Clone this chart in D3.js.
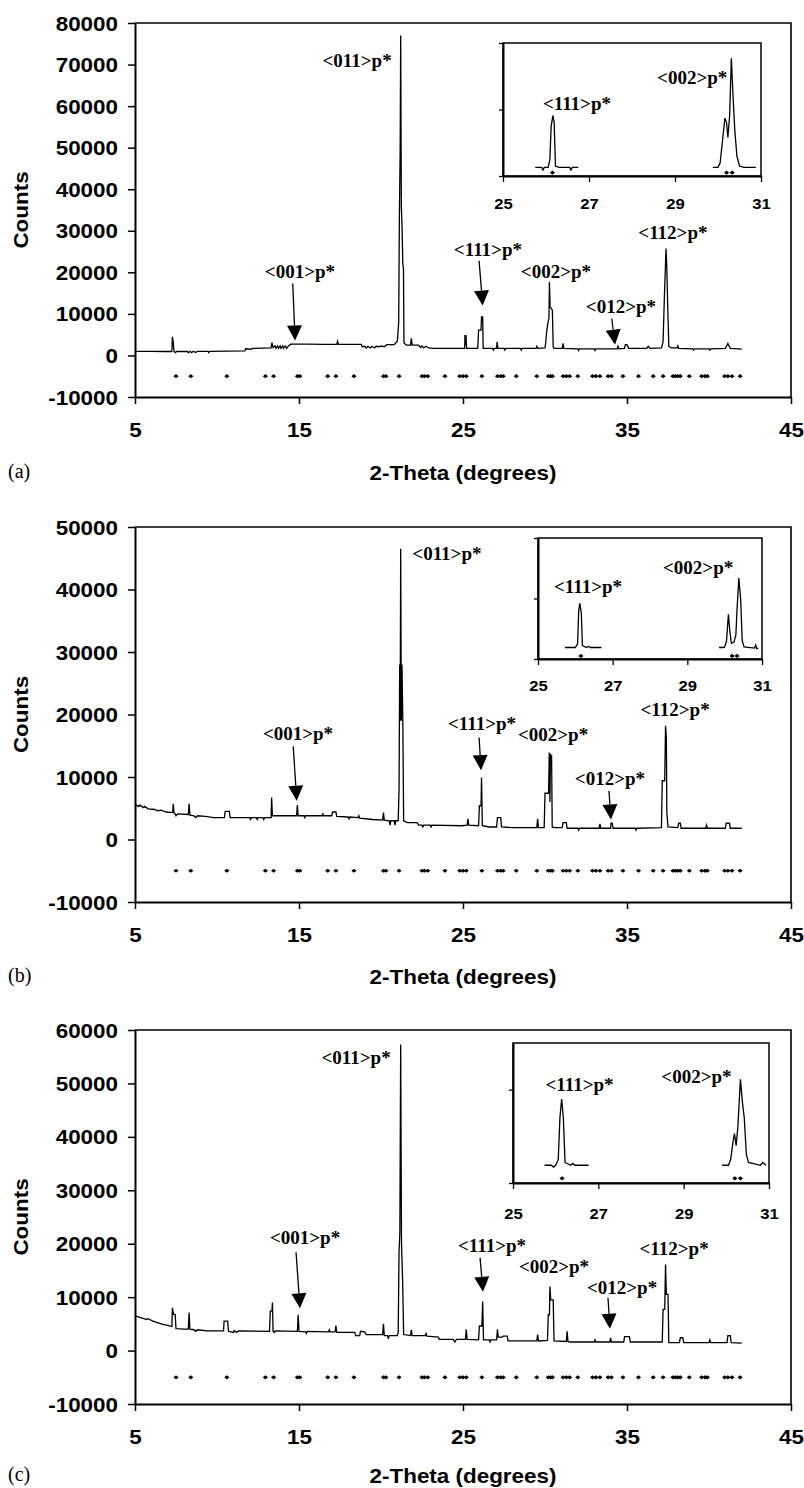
<!DOCTYPE html>
<html>
<head>
<meta charset="utf-8">
<script src="https://cdn.jsdelivr.net/npm/d3@7"></script>
<style>
  body { margin: 0; background: #fff; }
  svg { display: block; }
  .tick text { font-family: "Liberation Sans", Arial, sans-serif; font-weight: bold; fill: #000; }
  .ann { font-family: "Liberation Serif", "Times New Roman", serif; font-weight: bold; font-size: 19px; fill: #000; }
</style>
</head>
<body>
<div id="chart"></div>
<script>
// ---- data ----
var xTicks = [5, 15, 25, 35, 45];
var insetTicks = [25, 27, 29, 31];
var refLevel = -5000;     // counts level of the reference-peak markers
var insetRefLevel = 500;
var yMaxA = 80000, yMaxB = 50000, yMaxC = 60000;

// reference peak positions (2-theta)
var refPeaks = [7.5, 8.4, 10.6, 12.95, 13.45, 14.9, 15.05, 16.75, 17.25, 18.35, 20.15, 20.3, 21.1,
  22.5, 22.65, 22.85, 23.9, 24.8, 25.0, 25.2, 26.15, 27.1, 27.3, 27.45, 28.25, 29.5, 30.2, 30.35,
  30.45, 31.1, 31.3, 31.5, 32.0, 32.9, 33.1, 33.35, 33.85, 34.05, 34.75, 35.7, 36.6, 37.2, 37.8,
  37.95, 38.1, 38.25, 38.8, 39.55, 39.75, 39.9, 40.95, 41.15, 41.4, 41.9];
var insetRef = [26.15, 30.2, 30.33];

// diffraction profiles [2-theta, counts]
var profileA = [[5.0,1000],[6.0,1000],[6.8,950],[7.25,950],[7.28,4500],[7.33,3200],[7.38,1000],[7.45,700],[7.55,950],
  [8.2,950],[8.25,650],[8.35,1000],[8.45,650],[8.55,1000],[8.7,700],[8.8,1000],[9.45,1000],[9.5,650],[9.55,1000],
  [10.6,1050],[11.7,1100],[11.75,1600],[12.1,1500],[12.15,1700],[13.3,1800],[13.35,3100],[13.42,1900],[13.55,2300],
  [13.6,1700],[13.7,2300],[13.75,1700],[13.85,2300],[13.9,1700],[14.0,2300],[14.05,1700],[14.15,2300],[14.25,1700],
  [14.35,2300],[14.5,2700],[15.5,2700],[16.5,2650],[17.3,2650],[17.35,3400],[17.4,2650],[18.8,2650],[18.85,2100],
  [19.0,2200],[19.1,1800],[19.2,2200],[19.35,1800],[19.45,2200],[19.6,1800],[19.7,2200],[19.9,2100],[20.0,2300],
  [20.2,2100],[20.35,2600],[20.8,2600],[20.9,3000],[21.0,3500],[21.08,8000],[21.12,33000],[21.17,50000],[21.2,77000],
  [21.24,36000],[21.29,30000],[21.33,22000],[21.37,20900],[21.4,3000],[21.55,2500],[21.8,2500],[21.85,4100],[21.9,2500],
  [22.3,2500],[22.4,1900],[22.5,2300],[22.6,1800],[22.75,2200],[22.9,1800],[23.2,1700],[24.5,1700],[25.1,1700],
  [25.12,4900],[25.15,2500],[25.18,4900],[25.22,1700],[25.9,1700],[25.95,6100],[26.1,6100],[26.13,9300],[26.2,9300],
  [26.23,1700],[26.8,1700],[26.85,1300],[26.9,1700],[27.05,1700],[27.08,3300],[27.13,1700],[27.5,1700],[27.55,1300],
  [27.6,1700],[28.5,1700],[28.55,1300],[28.6,1700],[29.45,1700],[29.5,2200],[29.55,1700],[30.0,1800],[30.04,3000],
  [30.1,5700],[30.17,7700],[30.24,9000],[30.27,17700],[30.31,11700],[30.45,10900],[30.5,2000],[30.55,1700],[31.05,1700],
  [31.1,2900],[31.15,1700],[32.0,1600],[32.05,1200],[32.1,1600],[33.0,1600],[33.05,1200],[33.1,1600],[34.4,1600],
  [34.45,2200],[34.5,1600],[34.85,1700],[34.9,2600],[35.0,2600],[35.1,1700],[36.2,1700],[36.3,2200],[36.4,1700],
  [37.1,1800],[37.2,3300],[37.28,14100],[37.38,25700],[37.43,20900],[37.48,12100],[37.55,2200],[37.7,1800],[38.05,1800],
  [38.1,2300],[38.15,1700],[39.0,1600],[39.05,1300],[39.1,1600],[40.0,1600],[40.05,1300],[40.1,1600],[41.0,1700],
  [41.15,2900],[41.3,1700],[42.0,1500]];

var profileB = [[5.0,5600],[5.2,5300],[5.3,5500],[5.5,5100],[5.6,5300],[5.8,4900],[6.2,4800],[6.4,4600],[6.6,4700],
  [6.9,4400],[7.3,4300],[7.33,5700],[7.38,4300],[7.45,4100],[7.5,3800],[7.6,4100],[8.25,4000],[8.3,5700],[8.35,3900],
  [8.6,3800],[8.7,3500],[8.8,3800],[9.3,3700],[9.8,3500],[10.45,3500],[10.5,4500],[10.75,4500],[10.8,3500],[12.0,3500],
  [12.05,3200],[12.1,3500],[12.4,3500],[12.45,3200],[12.5,3500],[12.8,3500],[12.85,3200],[12.9,3500],[13.3,3500],
  [13.33,6700],[13.38,3800],[14.85,3800],[14.9,5500],[14.95,3800],[15.3,3800],[15.35,3500],[15.4,3800],[16.4,3800],
  [16.45,4100],[16.5,3800],[17.0,3800],[17.05,4400],[17.25,4400],[17.3,3700],[18.0,3600],[18.05,3300],[18.1,3600],
  [18.6,3500],[18.65,3800],[18.7,3400],[19.5,3200],[20.1,3100],[20.15,4300],[20.2,3100],[20.5,3000],[20.55,2300],
  [20.6,3000],[20.8,3000],[20.85,2300],[20.9,3000],[21.05,3000],[21.1,8000],[21.14,28000],[21.17,19000],[21.2,46500],
  [21.24,19000],[21.28,28000],[21.33,19000],[21.38,3000],[21.6,2700],[22.2,2700],[22.3,2300],[22.5,2300],[22.55,2000],
  [22.6,2300],[23.0,2300],[23.05,2000],[23.1,2300],[24.9,2200],[25.25,2300],[25.3,3300],[25.35,2300],[25.95,2200],
  [26.0,5400],[26.1,5400],[26.13,9900],[26.18,2200],[26.6,2000],[27.05,2000],[27.1,3500],[27.3,3500],[27.35,2000],
  [28.0,1900],[29.5,1900],[29.55,3300],[29.6,1900],[29.95,1900],[30.0,7400],[30.22,7400],[30.26,13900],[30.3,6000],
  [30.33,13700],[30.37,12000],[30.4,13500],[30.44,2000],[30.6,1900],[31.05,1900],[31.1,2700],[31.3,2700],[31.35,1800],
  [32.0,1800],[32.05,1500],[32.1,1800],[33.3,1800],[33.35,2500],[33.4,1800],[34.0,1800],[34.03,2600],[34.1,2600],
  [34.15,1800],[35.5,1800],[35.55,1500],[35.6,1800],[37.1,1900],[37.15,9400],[37.3,9400],[37.35,18200],[37.4,16300],
  [37.43,4300],[37.5,2000],[38.1,1900],[38.15,2600],[38.25,2600],[38.3,1800],[39.8,1800],[39.85,2300],[39.9,1800],
  [41.0,1800],[41.05,2600],[41.25,2600],[41.3,1800],[42.0,1800]];

var profileC = [[5.0,6500],[5.3,6200],[5.7,5800],[5.75,6000],[6.1,5500],[6.4,5200],[6.7,4900],[7.0,4700],[7.25,4500],
  [7.28,8000],[7.35,6800],[7.45,6700],[7.5,4100],[8.0,4000],[8.25,4000],[8.3,7100],[8.35,4000],[8.6,3900],[8.7,3600],
  [8.8,3900],[9.4,3700],[10.4,3700],[10.43,5500],[10.65,5500],[10.7,3600],[11.0,3400],[11.05,3700],[11.2,3400],
  [11.3,3700],[13.2,3600],[13.25,7400],[13.35,7400],[13.38,9000],[13.42,3600],[13.5,3400],[13.55,3700],[14.9,3600],
  [14.95,6700],[15.0,3600],[15.4,3500],[15.45,3200],[15.5,3600],[16.8,3500],[16.85,3900],[16.9,3500],[17.2,3500],
  [17.25,4700],[17.3,3400],[18.4,3400],[18.45,2800],[18.7,2800],[18.75,3600],[19.0,3500],[19.1,3000],[20.1,3000],
  [20.15,5000],[20.2,2800],[20.4,2800],[20.45,2200],[20.5,2800],[21.0,2800],[21.05,3500],[21.1,18500],[21.15,22000],
  [21.2,57300],[21.25,20000],[21.32,13000],[21.38,3000],[21.8,2800],[21.85,3900],[21.9,2800],[22.7,2800],[22.75,3200],
  [22.8,2700],[23.5,2500],[23.55,2100],[24.4,2100],[24.5,1600],[24.6,2100],[25.15,2100],[25.2,4000],[25.25,2100],
  [25.95,2000],[26.0,4600],[26.15,4600],[26.2,9200],[26.25,2000],[26.6,2000],[26.65,1600],[26.7,2000],[27.05,2000],
  [27.1,4000],[27.15,2500],[27.4,2500],[27.45,2700],[27.7,2700],[27.75,1800],[29.5,1800],[29.55,3000],[29.6,1800],
  [30.15,1900],[30.2,6700],[30.27,6700],[30.3,12000],[30.35,9500],[30.5,9500],[30.55,1800],[31.3,1700],[31.35,3600],
  [31.4,1700],[31.5,1600],[33.0,1600],[33.05,2000],[33.1,1600],[33.95,1600],[34.0,2400],[34.05,1600],[34.8,1600],
  [34.85,2600],[35.15,2600],[35.2,1600],[37.15,1600],[37.2,7700],[37.3,7700],[37.35,16100],[37.4,10500],[37.5,10500],
  [37.55,1500],[38.2,1500],[38.25,2400],[38.4,2400],[38.45,1500],[40.0,1500],[40.05,2000],[40.1,1500],[41.1,1500],
  [41.15,2800],[41.3,2800],[41.35,1500],[42.0,1400]];

// inset close-ups [2-theta, counts]
var insetA111 = [[25.75,1300],[25.9,1300],[25.93,900],[25.96,1300],[26.05,1300],[26.09,2500],[26.12,7500],[26.16,9100],
  [26.19,8000],[26.22,1500],[26.3,1300],[26.55,1300],[26.58,900],[26.61,1300],[26.75,1300]];
var insetA002 = [[29.88,1300],[30.0,1300],[30.05,2000],[30.1,5000],[30.16,8700],[30.2,8000],[30.23,5800],[30.27,9000],
  [30.31,17700],[30.35,12000],[30.39,6900],[30.44,3000],[30.5,1500],[30.6,1300],[30.88,1300]];
var insetB111 = [[25.72,1900],[26.0,1900],[26.06,2500],[26.09,8000],[26.12,9200],[26.16,7600],[26.19,2200],[26.3,1900],
  [26.35,2100],[26.4,1900],[26.7,1900]];
var insetB002 = [[29.85,1900],[29.95,1900],[30.0,2000],[30.05,3000],[30.1,7400],[30.14,4500],[30.18,2600],[30.25,2800],
  [30.3,4000],[30.33,8000],[30.38,13400],[30.43,9700],[30.47,3000],[30.52,2000],[30.8,1800],[30.83,2300],[30.86,1700],[30.9,1800]];
var insetC111 = [[25.74,1900],[25.9,1900],[25.95,1700],[26.0,1900],[26.06,2500],[26.1,7000],[26.14,9000],[26.18,7000],
  [26.22,2200],[26.35,1900],[26.4,2100],[26.45,1900],[26.77,1900]];
var insetC002 = [[29.9,1900],[30.05,1900],[30.1,2500],[30.16,4500],[30.19,5300],[30.23,4000],[30.27,6000],[30.33,11100],
  [30.38,8500],[30.42,7000],[30.47,3000],[30.52,2200],[30.8,1900],[30.85,2200],[30.93,1900]];

// peak labels: text, 2-theta, counts (baseline)
var labelsA = [["<011>p*",18.54,69500],["<001>p*",15.06,18750],["<111>p*",26.52,24000],
  ["<002>p*",30.67,18750],["<012>p*",34.63,10300],["<112>p*",37.8,28100]];
var labelsB = [["<011>p*",24.02,44800],["<001>p*",14.94,16000],["<111>p*",26.16,17600],
  ["<002>p*",30.49,15700],["<012>p*",33.96,8800],["<112>p*",37.93,19700]];
var labelsC = [["<011>p*",18.48,53600],["<001>p*",15.37,19900],["<111>p*",26.77,18400],
  ["<002>p*",30.55,14600],["<012>p*",34.7,10500],["<112>p*",37.87,17800]];
// arrows: tail 2-theta, tail counts, tip 2-theta, tip counts
var arrowsA = [[14.62,17300,14.76,3600],[25.98,22800,26.2,12000],[34.07,8900,34.27,2600]];
var arrowsB = [[14.65,14900,14.86,6200],[25.98,16300,26.1,11100],[33.9,7800,34.02,3200]];
var arrowsC = [[14.82,18400,15.06,7900],[26.04,17400,26.22,11000],[33.84,9900,33.96,4100]];
var insetLabelsA = [["<111>p*",26.72,9900],["<002>p*",29.4,13800]];
var insetLabelsB = [["<111>p*",26.34,10900],["<002>p*",29.29,14000]];
var insetLabelsC = [["<111>p*",26.56,9860],["<002>p*",29.3,10700]];

// ---- layout ----
var panels = [
  {profile: profileA, yMax: yMaxA, top: 23, bottom: 397, titleY: 480, letter: "(a)", labels: labelsA, arrows: arrowsA,
   inset: {left: 503, top: 43, w: 258, h: 133, yMax: 20000, yTicks: [0, 10000, 20000], lab: 33,
           s111: insetA111, s002: insetA002, labels: insetLabelsA}},
  {profile: profileB, yMax: yMaxB, top: 527, bottom: 902, titleY: 984, letter: "(b)", labels: labelsB, arrows: arrowsB,
   inset: {left: 538, top: 538, w: 224, h: 121, yMax: 20000, yTicks: [0, 10000, 20000], lab: 32,
           s111: insetB111, s002: insetB002, labels: insetLabelsB}},
  {profile: profileC, yMax: yMaxC, top: 1030, bottom: 1404, titleY: 1483, letter: "(c)", labels: labelsC, arrows: arrowsC,
   inset: {left: 513, top: 1043, w: 256, h: 140, yMax: 15000, yTicks: [0, 10000], lab: 36,
           s111: insetC111, s002: insetC002, labels: insetLabelsC}}
];

var W = 804, H = 1488, left = 135, right = 791, stretch = 1.15;

var svg = d3.select("#chart").append("svg").attr("width", W).attr("height", H);

// flat diamond, a little wider than tall, like the spreadsheet markers
var flatDiamond = {
  draw: function(ctx) {
    ctx.moveTo(-2.6, 0); ctx.lineTo(0, -2.1); ctx.lineTo(2.6, 0); ctx.lineTo(0, 2.1); ctx.closePath();
  }
};

function styleAxis(ax, domainW, tickW) {
  ax.select(".domain").attr("stroke", "#000").attr("stroke-width", domainW);
  ax.selectAll(".tick line").attr("stroke", "#000").attr("stroke-width", tickW);
}

function drawArrow(g, x, y, a) {
  var x0 = x(a[0]), y0 = y(a[1]), x1 = x(a[2]), y1 = y(a[3]);
  var dx = x1 - x0, dy = y1 - y0, len = Math.sqrt(dx * dx + dy * dy);
  var ux = dx / len, uy = dy / len, hl = 15, hw = 7.5;
  var bx = x1 - ux * hl, by = y1 - uy * hl;
  g.append("line").attr("x1", x0).attr("y1", y0).attr("x2", bx).attr("y2", by)
    .attr("stroke", "#000").attr("stroke-width", 1.3);
  g.append("path")
    .attr("d", "M" + x1 + "," + y1 + "L" + (bx - uy * hw) + "," + (by + ux * hw) + "L" + (bx + uy * hw) + "," + (by - ux * hw) + "Z")
    .attr("fill", "#000");
}

function drawPanel(p) {
  var g = svg.append("g");
  var x = d3.scaleLinear().domain([xTicks[0], xTicks[xTicks.length - 1]]).range([left, right]);
  var y = d3.scaleLinear().domain([-10000, p.yMax]).range([p.bottom, p.top]);

  // frame (top and right)
  g.append("path")
    .attr("d", "M" + x(5) + "," + y(p.yMax) + "H" + x(45) + "V" + y(-10000))
    .attr("fill", "none").attr("stroke", "#000").attr("stroke-width", 1.6);

  // pattern
  var line = d3.line().x(function(d) { return x(d[0]); }).y(function(d) { return y(d[1]); });
  g.append("path").datum(p.profile)
    .attr("fill", "none").attr("stroke", "#000").attr("stroke-width", 1.3)
    .attr("d", line);

  // reference markers
  g.append("g").selectAll("path").data(refPeaks).join("path")
    .attr("d", d3.symbol(flatDiamond))
    .attr("transform", function(d) { return "translate(" + x(d) + "," + y(refLevel) + ")"; })
    .attr("fill", "#000");

  // axes
  var yAx = g.append("g").attr("transform", "translate(" + x(5) + ",0)")
    .call(d3.axisLeft(y).tickValues(d3.range(-10000, p.yMax + 1, 10000))
      .tickFormat(function(d) { return String(d); }).tickSize(7).tickSizeOuter(0));
  styleAxis(yAx, 2, 1.5);
  yAx.selectAll("text").attr("x", -17 / stretch).attr("dy", "0.36em")
    .attr("transform", "scale(" + stretch + ",1)").style("font-size", "19.5px");

  var xAx = g.append("g").attr("transform", "translate(0," + y(-10000) + ")")
    .call(d3.axisBottom(x).tickValues(xTicks).tickFormat(function(d) { return String(d); })
      .tickSize(7).tickSizeOuter(0));
  styleAxis(xAx, 2, 1.5);
  xAx.selectAll("text").attr("y", 40).attr("dy", 0)
    .attr("transform", "scale(" + stretch + ",1)").style("font-size", "19.5px");

  // peak labels and arrows
  g.append("g").selectAll("text").data(p.labels).join("text")
    .attr("class", "ann").attr("text-anchor", "middle")
    .attr("x", function(d) { return x(d[1]); }).attr("y", function(d) { return y(d[2]); })
    .text(function(d) { return d[0]; });
  p.arrows.forEach(function(a) { drawArrow(g, x, y, a); });

  // titles
  var cy = (p.top + p.bottom) / 2;
  g.append("text").attr("transform", "translate(28," + cy + ") rotate(-90) scale(" + stretch + ",1)")
    .attr("text-anchor", "middle")
    .style("font-family", '"Liberation Sans", Arial, sans-serif').style("font-weight", "bold").style("font-size", "19.5px")
    .text("Counts");
  g.append("text").attr("transform", "translate(" + ((left + right) / 2) + "," + p.titleY + ") scale(" + stretch + ",1)")
    .attr("text-anchor", "middle")
    .style("font-family", '"Liberation Sans", Arial, sans-serif').style("font-weight", "bold").style("font-size", "19.5px")
    .text("2-Theta (degrees)");
  g.append("text").attr("x", 8).attr("y", p.titleY - 2)
    .style("font-family", '"Liberation Serif", "Times New Roman", serif').style("font-size", "20px")
    .text(p.letter);

  // inset
  var q = p.inset;
  var ig = g.append("g");
  var ix = d3.scaleLinear().domain([insetTicks[0], insetTicks[insetTicks.length - 1]]).range([q.left, q.left + q.w]);
  var iy = d3.scaleLinear().domain([0, q.yMax]).range([q.top + q.h, q.top]);
  ig.append("rect").attr("x", ix(25)).attr("y", iy(q.yMax)).attr("width", ix(31) - ix(25)).attr("height", iy(0) - iy(q.yMax))
    .attr("fill", "#fff").attr("stroke", "#000").attr("stroke-width", 1.5);
  var iline = d3.line().x(function(d) { return ix(d[0]); }).y(function(d) { return iy(d[1]); });
  [q.s111, q.s002].forEach(function(s) {
    ig.append("path").datum(s).attr("fill", "none").attr("stroke", "#000").attr("stroke-width", 1.3).attr("d", iline);
  });
  ig.append("g").selectAll("path").data(insetRef).join("path")
    .attr("d", d3.symbol(flatDiamond))
    .attr("transform", function(d) { return "translate(" + ix(d) + "," + iy(insetRefLevel) + ")"; })
    .attr("fill", "#000");
  var iyAx = ig.append("g").attr("transform", "translate(" + ix(25) + ",0)")
    .call(d3.axisLeft(iy).tickValues(q.yTicks).tickFormat("").tickSize(4).tickSizeOuter(0));
  styleAxis(iyAx, 2, 1.3);
  var ixAx = ig.append("g").attr("transform", "translate(0," + iy(0) + ")")
    .call(d3.axisBottom(ix).tickValues(insetTicks).tickFormat(function(d) { return String(d); })
      .tickSize(6).tickSizeOuter(0));
  styleAxis(ixAx, 2, 1.3);
  ixAx.selectAll("text").attr("y", q.lab).attr("dy", 0)
    .attr("transform", "scale(" + stretch + ",1)").style("font-size", "14.5px");
  ig.append("g").selectAll("text").data(q.labels).join("text")
    .attr("class", "ann").attr("text-anchor", "middle")
    .attr("x", function(d) { return ix(d[1]); }).attr("y", function(d) { return iy(d[2]); })
    .text(function(d) { return d[0]; });
}

panels.forEach(drawPanel);
</script>
</body>
</html>
